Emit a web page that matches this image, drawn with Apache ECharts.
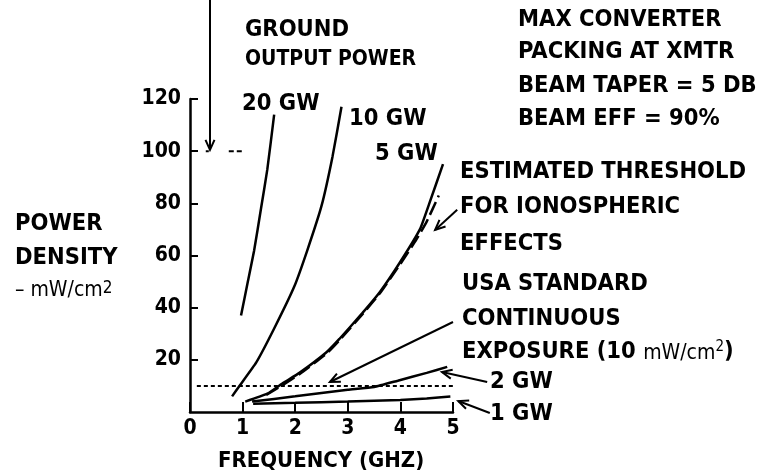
<!DOCTYPE html>
<html><head><meta charset="utf-8">
<script src="https://cdn.jsdelivr.net/npm/echarts@6/dist/echarts.min.js"></script>
<style>html,body{margin:0;padding:0;background:#fff}#c{width:760px;height:475px}</style>
</head><body><div id="c"></div>
<script>
// ---- data ----
const xTicks = [0, 1, 2, 3, 4, 5];
const yTicks = [0, 20, 40, 60, 80, 100, 120];
const gw20 = [[0.97,37],[1.1,50],[1.22,62],[1.35,78],[1.47,93],[1.6,114]];
const gw10 = [[0.8,6],[0.94,10],[1.26,19],[1.6,32],[1.98,48],[2.23,62],[2.5,79],[2.71,98],[2.88,117]];
const gw5 = [[1.05,4],[1.47,7],[1.76,11],[2.08,15],[2.6,23],[2.84,28],[3.28,38],[3.61,46],[3.99,57.3],[4.37,70],[4.55,80],[4.81,95]];
const threshold = [[1.45,6.5],[1.76,10.3],[2.08,14.5],[2.6,22.5],[2.84,27.5],[3.28,37.5],[3.61,45.5],[3.99,56.5],[4.3,66],[4.5,73],[4.73,83]];
const gw2 = [[1.18,4],[2.0,6],[3.0,8.5],[3.5,9.6],[3.95,12],[4.5,15],[4.89,17.3]];
const gw1 = [[1.2,3.2],[2.0,3.5],[3.0,4.0],[4.0,4.6],[4.5,5.2],[4.95,5.9]];
const usaStandard = [[0.13,10],[5.33,10]];
const marker100 = [[0.3,100],[1.0,100]];
// annotation arrows: [from, tip] in data units
const arrowTop = [[0.38,158],[0.38,100.5]];
const arrowThreshold = [[5.08,77.5],[4.66,69.8]];
const arrowUsa = [[5.0,34.5],[2.66,11.5]];
const arrow2 = [[5.65,11.5],[4.79,15.3]];
const arrow1 = [[5.70,-0.4],[5.10,4.2]];

const FONT = 'DejaVu Sans Condensed';
const CAP = "bold 23.5px 'DejaVu Sans Condensed'";

const chart = echarts.init(document.getElementById('c'), null, {renderer:'canvas'});

function txt(x, y, s, font) {
  return {type:'text', left:x, top:y - 12, style:{text:s, fill:'#000', font:font || CAP}};
}
function lineSeries(data, extra) {
  return Object.assign({type:'line', data:data, showSymbol:false, symbol:'none', smooth:0.15, clip:false,
    lineStyle:{color:'#000', width:2.5}, silent:true, z:3}, extra||{});
}

const option = {
  animation:false,
  backgroundColor:'#fff',
  grid:{left:190, right:307, top:99, bottom:63},
  xAxis:{type:'value', min:0, max:5, interval:1,
    axisLine:{show:true, lineStyle:{color:'#000', width:2.5}},
    axisTick:{show:true, inside:true, length:10, lineStyle:{color:'#000', width:2}, customValues:xTicks},
    axisLabel:{color:'#000', fontFamily:FONT, fontWeight:'bold', fontSize:21, margin:6, customValues:xTicks},
    splitLine:{show:false}},
  yAxis:{type:'value', min:0, max:120, interval:20,
    axisLine:{show:true, lineStyle:{color:'#000', width:2.5}},
    axisTick:{show:true, inside:true, length:8, lineStyle:{color:'#000', width:2}},
    axisLabel:{color:'#000', fontFamily:FONT, fontWeight:'bold', fontSize:21, margin:9, showMinLabel:false,
      formatter: v => yTicks.includes(v) && v !== 0 ? String(v) : ''},
    splitLine:{show:false}},
  series:[
    lineSeries(gw20),
    lineSeries(gw10),
    lineSeries(gw5),
    lineSeries(threshold, {lineStyle:{color:'#000', width:2.5, type:[14,5]}}),
    lineSeries(gw2),
    lineSeries(gw1),
    lineSeries(usaStandard, {smooth:false, lineStyle:{color:'#000', width:2, type:[4,3]}}),
    lineSeries(marker100, {smooth:false, lineStyle:{color:'#000', width:2, type:[3,20,5,3,5,100]}})
  ]
};
chart.setOption(option);

function arrowGraphics(pair) {
  const p0 = chart.convertToPixel({gridIndex:0}, pair[0]);
  const p1 = chart.convertToPixel({gridIndex:0}, pair[1]);
  const dx = p1[0]-p0[0], dy = p1[1]-p0[1];
  const L = Math.hypot(dx, dy);
  const ux = dx/L, uy = dy/L, nx = -uy, ny = ux;
  const hl = 10, hw = 4.5;
  const h1 = [p1[0]-hl*ux+hw*nx, p1[1]-hl*uy+hw*ny];
  const h2 = [p1[0]-hl*ux-hw*nx, p1[1]-hl*uy-hw*ny];
  return [
    {type:'polyline', shape:{points:[p0,p1]}, style:{stroke:'#000', lineWidth:2, fill:null}, z:10},
    {type:'polyline', shape:{points:[h1,p1,h2]}, style:{stroke:'#000', lineWidth:2, fill:null}, z:10}
  ];
}

const graphics = [].concat(
  arrowGraphics(arrowTop), arrowGraphics(arrowThreshold), arrowGraphics(arrowUsa),
  arrowGraphics(arrow2), arrowGraphics(arrow1),
  [
    txt(245, 30, 'GROUND'),
    txt(245, 61, 'OUTPUT POWER', "bold 21px 'DejaVu Sans Condensed'"),
    txt(242, 104, '20 GW'),
    txt(349, 119, '10 GW'),
    txt(375, 154, '5 GW'),
    txt(518, 20, 'MAX CONVERTER'),
    txt(518, 52, 'PACKING AT XMTR'),
    txt(518, 86, 'BEAM TAPER = 5 DB'),
    txt(518, 119, 'BEAM EFF = 90%'),
    txt(460, 172, 'ESTIMATED THRESHOLD'),
    txt(460, 207, 'FOR IONOSPHERIC'),
    txt(460, 244, 'EFFECTS'),
    txt(462, 284, 'USA STANDARD'),
    txt(462, 319, 'CONTINUOUS'),
    {type:'text', left:462, top:340, style:{
      text:'{c|EXPOSURE (10 }{m|mW/cm}{s|2}{c|)}',
      rich:{c:{font:CAP, fill:'#000', verticalAlign:'bottom'},
            m:{fontFamily:FONT, fontSize:21, fill:'#000', verticalAlign:'bottom'},
            s:{fontFamily:FONT, fontSize:15, fill:'#000', verticalAlign:'top'}}}},
    txt(490, 382, '2 GW'),
    txt(490, 414, '1 GW'),
    txt(15, 224, 'POWER'),
    txt(15, 258, 'DENSITY'),
    {type:'text', left:15, top:280, style:{
      text:'{m|– mW/cm}{s|2}',
      rich:{m:{fontFamily:FONT, fontSize:21, fill:'#000', verticalAlign:'bottom'},
            s:{fontFamily:FONT, fontSize:17, fill:'#000', verticalAlign:'top'}}}},
    txt(218, 462, 'FREQUENCY (GHZ)', "bold 22px 'DejaVu Sans Condensed'")
  ]
);
chart.setOption({graphic: graphics});
</script>
</body></html>
